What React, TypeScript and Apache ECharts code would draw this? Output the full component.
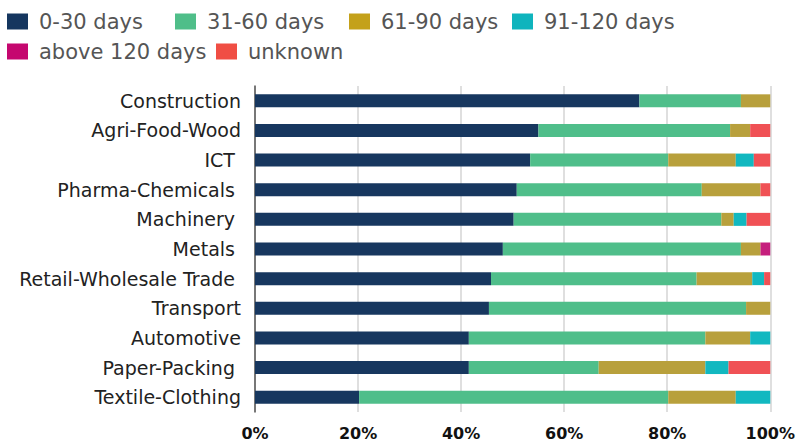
import React, { useEffect, useRef } from "react";
import * as echarts from "echarts";

const categories = [
  "Construction",
  "Agri-Food-Wood",
  "ICT ",
  "Pharma-Chemicals ",
  "Machinery ",
  "Metals ",
  "Retail-Wholesale Trade ",
  "Transport",
  "Automotive",
  "Paper-Packing ",
  "Textile-Clothing",
];

const seriesNames = ["0-30 days", "31-60 days", "61-90 days", "91-120 days", "above 120 days", "unknown"];

const days0to30 = [74.6, 55.0, 53.4, 50.8, 50.2, 48.1, 45.8, 45.4, 41.5, 41.5, 20.2];
const days31to60 = [19.7, 37.2, 26.8, 35.9, 40.3, 46.2, 39.9, 49.9, 45.9, 25.2, 60.0];
const days61to90 = [5.7, 3.9, 13.1, 11.4, 2.4, 3.8, 10.8, 4.7, 8.7, 20.7, 13.1];
const days91to120 = [0, 0, 3.5, 0, 2.5, 0, 2.3, 0, 3.9, 4.5, 6.7];
const above120 = [0, 0, 0, 0, 0, 1.9, 0, 0, 0, 0, 0];
const unknown = [0, 3.9, 3.2, 1.9, 4.6, 0, 1.2, 0, 0, 8.1, 0];

const xTicks = [0, 20, 40, 60, 80, 100];

const barColors = ["#17375f", "#4fbe8a", "#b8a03c", "#12b8c0", "#c51f7d", "#f05155"];
const legendColors = ["#15365f", "#4fbe89", "#c4a11a", "#0fb4bd", "#c5076f", "#f04e44"];

// legend item icon positions [left, top]
const legendPos = [
  [7, 11],
  [175, 11],
  [349, 11],
  [512, 11],
  [7, 41],
  [216, 41],
];

export default function App() {
  const ref = useRef<HTMLDivElement>(null);
  useEffect(() => {
    if (!ref.current) return;
    const chart = echarts.init(ref.current, null, { renderer: "svg" });
    const values = [days0to30, days31to60, days61to90, days91to120, above120, unknown];
    const font = "DejaVu Sans";
    chart.setOption({
      animation: false,
      color: barColors,
      textStyle: { fontFamily: font },
      legend: seriesNames.map((name, i) => ({
        orient: "horizontal",
        left: legendPos[i][0],
        top: legendPos[i][1],
        padding: 0,
        itemWidth: 21,
        itemHeight: 16,
        icon: "rect",
        selectedMode: false,
        data: [{ name, itemStyle: { color: legendColors[i] } }],
        textStyle: { fontFamily: font, fontSize: 21, color: "#555", padding: [0, 0, 0, 6] },
      })),
      grid: { left: 255, right: 23, top: 86, bottom: 29, containLabel: false },
      xAxis: {
        type: "value",
        min: 0,
        max: 100,
        interval: 20,
        axisLabel: {
          formatter: (v: number) => (xTicks.includes(v) ? v + "%" : ""),
          fontFamily: font,
          fontSize: 16,
          fontWeight: "bold",
          color: "#111",
          margin: 13,
        },
        splitLine: { show: true, lineStyle: { color: "#d4d4d4", width: 1.5 } },
        axisLine: { show: false },
        axisTick: { show: false },
      },
      yAxis: {
        type: "category",
        inverse: true,
        data: categories,
        axisLabel: { fontFamily: font, fontSize: 19, color: "#222", margin: 14 },
        axisLine: { show: true, lineStyle: { color: "#555", width: 1.5 } },
        axisTick: { show: false },
      },
      series: seriesNames.map((name, i) => ({
        name,
        type: "bar",
        stack: "total",
        barWidth: 13,
        data: values[i],
        itemStyle: { color: barColors[i] },
      })),
    });
    return () => chart.dispose();
  }, []);
  return (
    <div
      ref={ref}
      style={{ position: "fixed", left: 0, top: 0, width: 798, height: 441, background: "#fff" }}
    />
  );
}
